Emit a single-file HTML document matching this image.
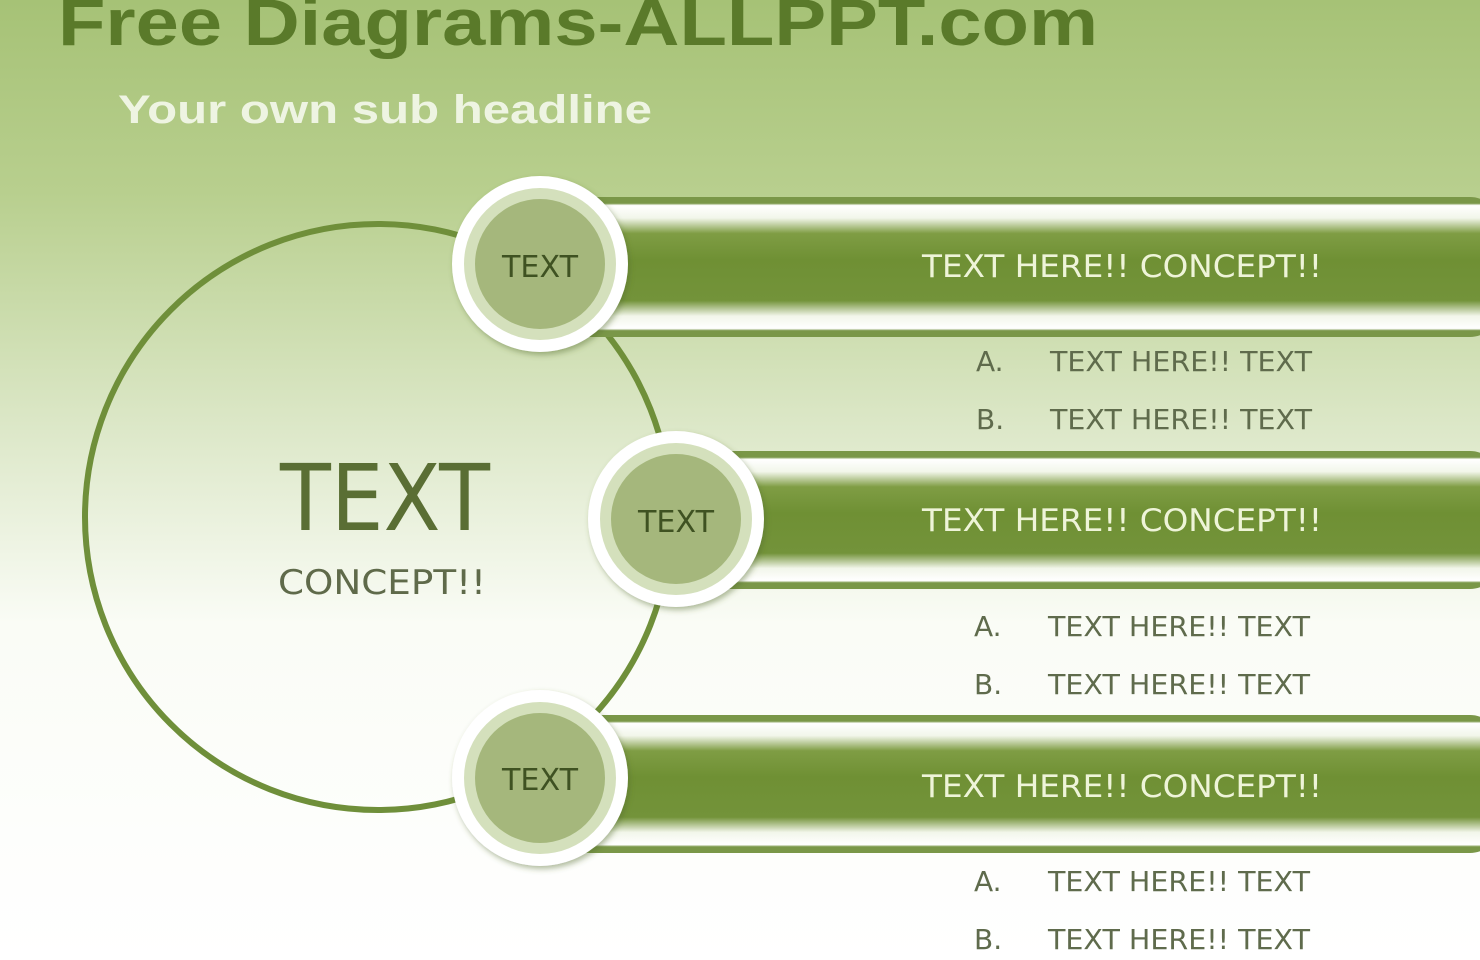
<!DOCTYPE html>
<html><head><meta charset="utf-8"><style>
html,body{margin:0;padding:0;width:1480px;height:960px;overflow:hidden}
</style></head><body>
<svg width="1480" height="960" xmlns="http://www.w3.org/2000/svg" style="display:block">
<defs>
<linearGradient id="bg" x1="0" y1="0" x2="0" y2="1">
<stop offset="0" stop-color="#a6c276"/>
<stop offset="0.2" stop-color="#b8cf8e"/>
<stop offset="0.45" stop-color="#dde8c9"/>
<stop offset="0.65" stop-color="#fafcf6"/>
<stop offset="1" stop-color="#ffffff"/>
</linearGradient>
<linearGradient id="bar" x1="0" y1="0" x2="0" y2="1">
<stop offset="0" stop-color="#7a9748"/>
<stop offset="0.045" stop-color="#7a9748"/>
<stop offset="0.06" stop-color="#ffffff"/>
<stop offset="0.15" stop-color="#f2f6ea"/>
<stop offset="0.26" stop-color="#7f9d44"/>
<stop offset="0.45" stop-color="#6f9034"/>
<stop offset="0.74" stop-color="#73933a"/>
<stop offset="0.85" stop-color="#f2f6ea"/>
<stop offset="0.94" stop-color="#ffffff"/>
<stop offset="0.955" stop-color="#7a9748"/>
<stop offset="1" stop-color="#7a9748"/>
</linearGradient>
<filter id="sh" x="-20%" y="-20%" width="140%" height="140%"><feDropShadow dx="2" dy="3" stdDeviation="3" flood-color="#556b2f" flood-opacity="0.45"/></filter>
</defs>
<rect width="1480" height="960" fill="url(#bg)"/>
<text x="58" y="45" font-family="Liberation Sans, sans-serif" font-weight="bold" font-size="66" fill="#5a7a2a" textLength="1040" lengthAdjust="spacingAndGlyphs">Free Diagrams-ALLPPT.com</text>
<text x="118" y="123" font-family="Liberation Sans, sans-serif" font-weight="bold" font-size="40" fill="#eef4e2" textLength="534" lengthAdjust="spacingAndGlyphs">Your own sub headline</text>

<circle cx="378" cy="517" r="293" fill="none" stroke="#6f8f3a" stroke-width="6"/>

<rect x="560" y="197" width="940" height="140" rx="30" fill="url(#bar)"/>
<rect x="700" y="451" width="800" height="138" rx="30" fill="url(#bar)"/>
<rect x="560" y="715" width="940" height="138" rx="30" fill="url(#bar)"/>

<g font-family="DejaVu Sans, Liberation Sans, sans-serif" fill="#eef4d8">
<text x="922" y="277" font-size="31" textLength="400" lengthAdjust="spacingAndGlyphs">TEXT  HERE!!  CONCEPT!!</text>
<text x="922" y="531" font-size="31" textLength="400" lengthAdjust="spacingAndGlyphs">TEXT  HERE!!  CONCEPT!!</text>
<text x="922" y="797" font-size="31" textLength="400" lengthAdjust="spacingAndGlyphs">TEXT  HERE!!  CONCEPT!!</text>
</g>

<g filter="url(#sh)">
<circle cx="540" cy="264" r="88" fill="#ffffff"/>
<circle cx="676" cy="519" r="88" fill="#ffffff"/>
<circle cx="540" cy="778" r="88" fill="#ffffff"/>
</g>
<g>
<circle cx="540" cy="264" r="76" fill="#d4e0bc"/>
<circle cx="540" cy="264" r="65" fill="#a5b77c"/>
<circle cx="676" cy="519" r="76" fill="#d4e0bc"/>
<circle cx="676" cy="519" r="65" fill="#a5b77c"/>
<circle cx="540" cy="778" r="76" fill="#d4e0bc"/>
<circle cx="540" cy="778" r="65" fill="#a5b77c"/>
</g>
<g font-family="DejaVu Sans, Liberation Sans, sans-serif" fill="#3f5222" font-size="30">
<text x="502" y="277" textLength="76" lengthAdjust="spacingAndGlyphs">TEXT</text>
<text x="638" y="532" textLength="76" lengthAdjust="spacingAndGlyphs">TEXT</text>
<text x="502" y="790" textLength="76" lengthAdjust="spacingAndGlyphs">TEXT</text>
</g>

<text x="280" y="530" font-family="DejaVu Sans, Liberation Sans, sans-serif" font-size="92" fill="#5a6e34" textLength="210" lengthAdjust="spacingAndGlyphs">TEXT</text>
<text x="278" y="594" font-family="DejaVu Sans, Liberation Sans, sans-serif" font-size="34" fill="#5f6a4a" textLength="208" lengthAdjust="spacingAndGlyphs">CONCEPT!!</text>

<g font-family="DejaVu Sans, Liberation Sans, sans-serif" fill="#5f6b4c" font-size="28">
<text x="976" y="371">A.</text><text x="1050" y="371" textLength="262" lengthAdjust="spacingAndGlyphs">TEXT HERE!! TEXT</text>
<text x="976" y="429">B.</text><text x="1050" y="429" textLength="262" lengthAdjust="spacingAndGlyphs">TEXT HERE!! TEXT</text>
<text x="974" y="636">A.</text><text x="1048" y="636" textLength="262" lengthAdjust="spacingAndGlyphs">TEXT HERE!! TEXT</text>
<text x="974" y="694">B.</text><text x="1048" y="694" textLength="262" lengthAdjust="spacingAndGlyphs">TEXT HERE!! TEXT</text>
<text x="974" y="891">A.</text><text x="1048" y="891" textLength="262" lengthAdjust="spacingAndGlyphs">TEXT HERE!! TEXT</text>
<text x="974" y="949">B.</text><text x="1048" y="949" textLength="262" lengthAdjust="spacingAndGlyphs">TEXT HERE!! TEXT</text>
</g>
</svg>
</body></html>
